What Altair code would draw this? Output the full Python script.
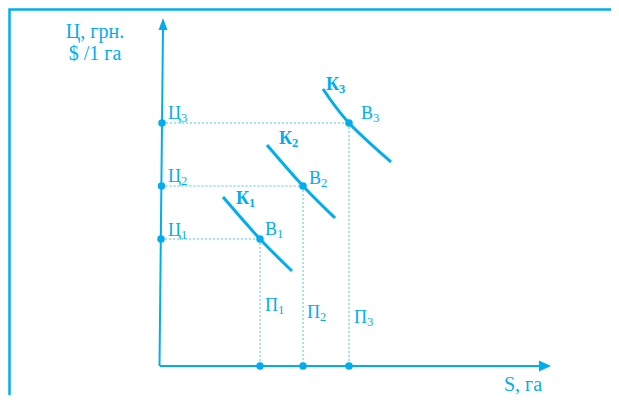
import altair as alt
import pandas as pd

C = "#00AEEF"
FONT = "Liberation Serif"

# Schematic coordinates: S (area) and P (price), origin at axes crossing
levels_P = [127, 180, 243]          # price levels Ц1..Ц3 (= B1..B3)
levels_S = [100, 143, 189]          # area levels П1..П3 (= B1..B3)
axis_S_at_level = [1, 1.5, 2]       # y axis is slightly slanted

# demand curves К1..К3 (three read points each)
k1_S = [63, 100, 132]
k1_P = [169, 127, 95]
k2_S = [107, 143, 175]
k2_P = [221, 180, 148]
k3_S = [163, 189, 231]
k3_P = [277, 243, 204]

# axes
yaxis_S = [-0.5, 3]
yaxis_P = [0, 338]
xaxis_S = [0, 381]
xaxis_P = [0, 0]
arrow_y = (3, 342)
arrow_x = (385, 0)

# labels: letter, subscript, junction S, baseline P, bold
lab_letter = ["Ц", "Ц", "Ц", "В", "В", "В", "П", "П", "П", "К", "К", "К"]
lab_sub = ["3", "2", "1", "3", "2", "1", "1", "2", "3", "3", "2", "1"]
lab_S = [21, 21, 21, 213, 161, 117, 118, 160, 207, 179, 132, 89]
lab_P = [247, 184, 130, 247, 182, 131, 55, 48, 43, 276, 222, 162]
lab_bold = [False] * 9 + [True] * 3

titles = ["Ц, грн.", "$ /1 га", "S, га"]
titles_S = [-65, -65, 363]
titles_P = [328, 306, -25]

xs = alt.Scale(domain=[-152, 451], nice=False, zero=False)
ys = alt.Scale(domain=[-29, 358], nice=False, zero=False)
X = lambda f="S": alt.X(f"{f}:Q", scale=xs, axis=None)
Y = lambda f="P": alt.Y(f"{f}:Q", scale=ys, axis=None)

# frame
frame = pd.DataFrame({"S": [-150.5, -150.5, 451], "P": [-29, 356.5, 356.5], "o": [0, 1, 2]})
frame_l = alt.Chart(frame).mark_line(color=C, strokeWidth=2.5).encode(
    x=X(), y=Y(), order="o:Q")

axes = pd.DataFrame({
    "S": yaxis_S + xaxis_S, "P": yaxis_P + xaxis_P,
    "id": ["y", "y", "x", "x"], "o": [0, 1, 0, 1]})
axes_l = alt.Chart(axes).mark_line(color=C, strokeWidth=2).encode(
    x=X(), y=Y(), detail="id:N", order="o:Q")

arr_up = alt.Chart(pd.DataFrame({"S": [arrow_y[0]], "P": [arrow_y[1]]})).mark_point(
    shape="M0,-1L-0.75,1L0.75,1Z", size=144, filled=True, color=C, opacity=1, strokeWidth=0
).encode(x=X(), y=Y())
arr_right = alt.Chart(pd.DataFrame({"S": [arrow_x[0]], "P": [arrow_x[1]]})).mark_point(
    shape="M1,0L-1,-0.9L-1,0.9Z", size=144, filled=True, color=C, opacity=1, strokeWidth=0
).encode(x=X(), y=Y())

# guides
gh = pd.DataFrame({"S": axis_S_at_level, "S2": levels_S, "P": levels_P, "P2": levels_P})
gv = pd.DataFrame({"S": levels_S, "S2": levels_S, "P": levels_P, "P2": [0, 0, 0]})
guides = pd.concat([gh, gv])
guide_l = alt.Chart(guides).mark_rule(color="#4fc3f0", strokeWidth=1, strokeDash=[2, 2]).encode(
    x=X(), x2="S2:Q", y=Y(), y2="P2:Q")

# curves
curves = pd.DataFrame({
    "S": k1_S + k2_S + k3_S, "P": k1_P + k2_P + k3_P,
    "k": ["1"] * 3 + ["2"] * 3 + ["3"] * 3, "o": [0, 1, 2] * 3})
curve_l = alt.Chart(curves).mark_line(color=C, strokeWidth=3, interpolate="natural").encode(
    x=X(), y=Y(), detail="k:N", order="o:Q")

# points
pts = pd.DataFrame({
    "S": axis_S_at_level + levels_S + levels_S,
    "P": levels_P + levels_P + [0, 0, 0]})
pts_l = alt.Chart(pts).mark_circle(color=C, size=56, opacity=1).encode(x=X(), y=Y())

labs = pd.DataFrame({"L": lab_letter, "sub": lab_sub, "S": lab_S, "P": lab_P, "b": lab_bold})
base_reg = alt.Chart(labs[~labs.b])
base_bold = alt.Chart(labs[labs.b])
t_main = base_reg.mark_text(font=FONT, fontSize=18, color=C, align="right", baseline="alphabetic").encode(
    x=X(), y=Y(), text="L:N")
t_sub = base_reg.mark_text(font=FONT, fontSize=12.5, color=C, align="left", baseline="alphabetic", dy=3).encode(
    x=X(), y=Y(), text="sub:N")
tb_main = base_bold.mark_text(font=FONT, fontSize=18, fontWeight="bold", color=C, align="right",
                              baseline="alphabetic").encode(x=X(), y=Y(), text="L:N")
tb_sub = base_bold.mark_text(font=FONT, fontSize=12.5, fontWeight="bold", color=C, align="left",
                             baseline="alphabetic", dy=3).encode(x=X(), y=Y(), text="sub:N")

tit = alt.Chart(pd.DataFrame({"t": titles, "S": titles_S, "P": titles_P})).mark_text(
    font=FONT, fontSize=20, color=C, align="center", baseline="alphabetic").encode(
    x=X(), y=Y(), text="t:N")

chart = alt.layer(
    frame_l, guide_l, axes_l, arr_up, arr_right, curve_l, pts_l,
    t_main, t_sub, tb_main, tb_sub, tit
).properties(
    width=603, height=387, padding=0, autosize=alt.AutoSizeParams(type="none")
).configure_view(stroke=None)

chart.save("out.html", embed_options={"renderer": "svg", "actions": False})
